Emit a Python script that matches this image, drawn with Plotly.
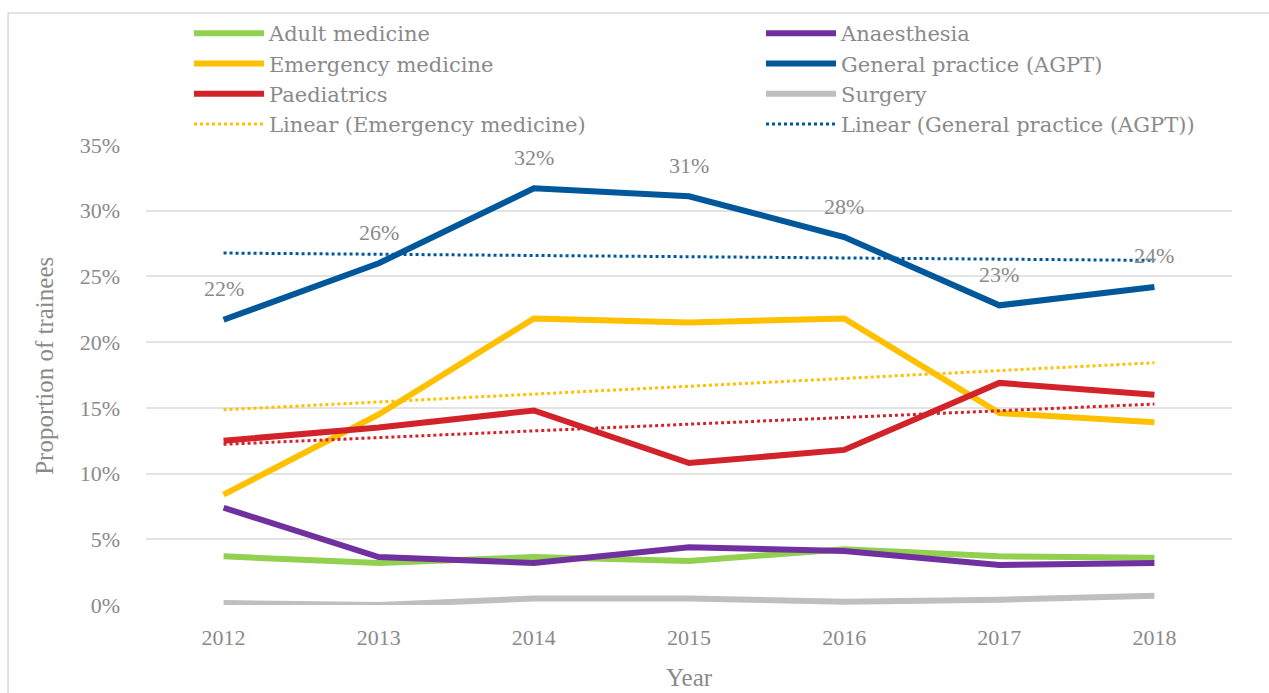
import numpy as np
import plotly.graph_objects as go

years = ["2012", "2013", "2014", "2015", "2016", "2017", "2018"]
adult_medicine = [3.7, 3.2, 3.65, 3.35, 4.25, 3.7, 3.6]
anaesthesia = [7.4, 3.65, 3.2, 4.4, 4.1, 3.05, 3.2]
emergency = [8.4, 14.5, 21.8, 21.5, 21.8, 14.6, 13.9]
general_practice = [21.7, 26.0, 31.7, 31.1, 28.0, 22.8, 24.2]
paediatrics = [12.5, 13.5, 14.8, 10.8, 11.8, 16.9, 16.0]
surgery = [0.15, 0.0, 0.5, 0.5, 0.25, 0.4, 0.7]
gp_labels = ["22%", "26%", "32%", "31%", "28%", "23%", "24%"]
y_ticks = [0, 5, 10, 15, 20, 25, 30, 35]
y_tick_labels = ["0%", "5%", "10%", "15%", "20%", "25%", "30%", "35%"]

FONT = "Liberation Serif"
LEG_FONT = "DejaVu Serif"
GREY = "#8a8a8a"

def linear_trend(values):
    x = np.arange(len(values))
    slope, intercept = np.polyfit(x, values, 1)
    return list(slope * x + intercept)

fig = go.Figure()

series = [
    ("Adult medicine", adult_medicine, "#92D050", "legend"),
    ("Anaesthesia", anaesthesia, "#7030A0", "legend2"),
    ("Emergency medicine", emergency, "#FFC000", "legend"),
    ("General practice (AGPT)", general_practice, "#00589B", "legend2"),
    ("Paediatrics", paediatrics, "#D2232A", "legend"),
    ("Surgery", surgery, "#BFBFBF", "legend2"),
]
for name, vals, color, leg in series:
    fig.add_trace(go.Scatter(
        x=years, y=vals, mode="lines", name=name, legend=leg,
        line=dict(color=color, width=6),
    ))

fig.add_trace(go.Scatter(
    x=years, y=linear_trend(emergency), mode="lines",
    name="Linear (Emergency medicine)", legend="legend",
    line=dict(color="#FFC000", width=3, dash="dot"),
))
fig.add_trace(go.Scatter(
    x=years, y=linear_trend(general_practice), mode="lines",
    name="Linear (General practice (AGPT))", legend="legend2",
    line=dict(color="#00589B", width=3, dash="dot"),
))
fig.add_trace(go.Scatter(
    x=years, y=linear_trend(paediatrics), mode="lines",
    name="Linear (Paediatrics)", showlegend=False,
    line=dict(color="#D2232A", width=3, dash="dot"),
))

# data labels for General practice (category index positions on the x axis)
for i, (v, lab) in enumerate(zip(general_practice, gp_labels)):
    fig.add_annotation(
        x=i, y=v, text=lab, showarrow=False, yshift=31,
        xanchor="center", yanchor="middle",
        font=dict(family=FONT, size=22, color=GREY),
    )

# axis titles
fig.add_annotation(
    xref="paper", yref="paper", x=0.5, y=-0.157, text="Year",
    xanchor="center", yanchor="middle",
    showarrow=False, font=dict(family=FONT, size=25, color=GREY),
)
fig.add_annotation(
    xref="paper", yref="paper", x=-0.093, y=0.52, text="Proportion of trainees",
    xanchor="center", yanchor="middle",
    textangle=-90, showarrow=False, font=dict(family=FONT, size=25, color=GREY),
)

# chart area border
fig.add_shape(
    type="rect", xref="paper", yref="paper",
    x0=-0.127, x1=1.2, y0=-0.5, y1=1.287,
    line=dict(color="#d9d9d9", width=1.5), layer="below",
)

leg_common = dict(
    orientation="v", xanchor="left", yanchor="top",
    xref="container", yref="container",
    font=dict(family=LEG_FONT, size=21, color=GREY),
    bgcolor="rgba(0,0,0,0)", itemwidth=70, tracegroupgap=0,
)

fig.update_layout(
    width=1269, height=693,
    margin=dict(l=146, r=37, t=145, b=88, autoexpand=False),
    paper_bgcolor="white", plot_bgcolor="white",
    font=dict(family=FONT, color=GREY, size=22),
    legend=dict(x=189 / 1269, y=1 - 13 / 693, **leg_common),
    legend2=dict(x=761 / 1269, y=1 - 13 / 693, **leg_common),
    xaxis=dict(
        type="category", range=[-0.5, 6.5], automargin=False,
        showgrid=False, showline=False, zeroline=False, ticks="",
        ticklabelstandoff=17,
        tickfont=dict(family=FONT, size=22, color=GREY),
    ),
    yaxis=dict(
        range=[0, 35], tickvals=y_ticks, ticktext=y_tick_labels, automargin=False,
        showgrid=True, gridcolor="#e3e3e3", gridwidth=2,
        zeroline=False, showline=False, ticks="",
        ticklabelstandoff=25,
        tickfont=dict(family=FONT, size=22, color=GREY),
    ),
)

fig.write_html(
    "out.html",
    config={"displayModeBar": False},
    post_script="document.body.style.margin='0';",
)
